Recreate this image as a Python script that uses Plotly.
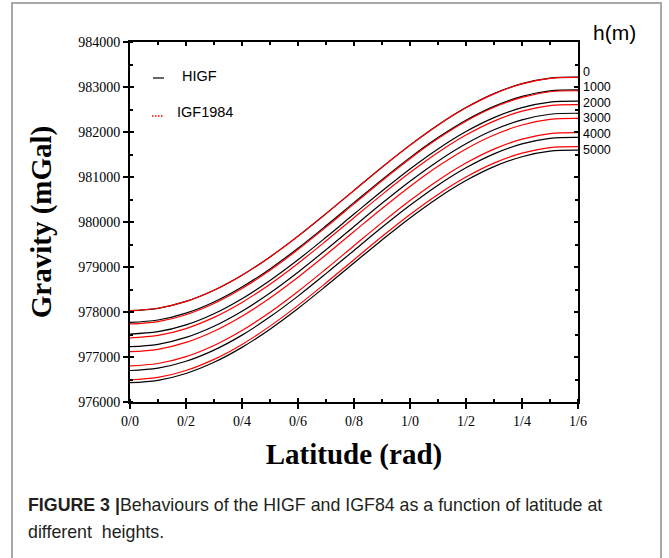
import plotly.graph_objects as go

# latitude samples (rad)
latitude = [0.0, 0.1, 0.2, 0.3, 0.4, 0.5, 0.6, 0.7, 0.8, 0.9, 1.0, 1.1, 1.2, 1.3, 1.4, 1.5, 1.6]

# HIGF gravity (mGal) per height (m)
higf_0 = [978030, 978082, 978235, 978484, 978818, 979224, 979686, 980186, 980703, 981218, 981708, 982156, 982543, 982853, 983075, 983199, 983221]
higf_1000 = [977770, 977822, 977974, 978222, 978554, 978958, 979418, 979916, 980430, 980942, 981431, 981876, 982261, 982570, 982791, 982914, 982936]
higf_2000 = [977510, 977562, 977714, 977962, 978296, 978701, 979161, 979660, 980176, 980688, 981178, 981624, 982010, 982319, 982540, 982664, 982686]
higf_3000 = [977230, 977282, 977435, 977683, 978017, 978423, 978885, 979384, 979901, 980415, 980905, 981352, 981739, 982049, 982270, 982394, 982416]
higf_4000 = [976700, 976752, 976905, 977153, 977486, 977892, 978353, 978852, 979368, 979882, 980371, 980818, 981204, 981514, 981735, 981859, 981881]
higf_5000 = [976430, 976482, 976634, 976882, 977214, 977618, 978078, 978576, 979090, 979602, 980091, 980536, 980921, 981230, 981451, 981574, 981596]

# IGF1984 gravity (mGal) per height (m)
igf_0 = [978032, 978084, 978237, 978485, 978818, 979224, 979685, 980184, 980701, 981214, 981704, 982151, 982537, 982847, 983068, 983192, 983214]
igf_1000 = [977734, 977786, 977939, 978187, 978520, 978926, 979387, 979886, 980403, 980916, 981406, 981853, 982239, 982549, 982770, 982894, 982916]
igf_2000 = [977427, 977479, 977632, 977880, 978213, 978619, 979080, 979579, 980096, 980609, 981099, 981546, 981932, 982242, 982463, 982587, 982609]
igf_3000 = [977119, 977171, 977324, 977572, 977905, 978311, 978772, 979271, 979788, 980301, 980791, 981238, 981624, 981934, 982155, 982279, 982301]
igf_4000 = [976804, 976856, 977009, 977257, 977590, 977996, 978457, 978956, 979473, 979986, 980476, 980923, 981309, 981619, 981840, 981964, 981986]
igf_5000 = [976494, 976546, 976699, 976947, 977280, 977686, 978147, 978646, 979163, 979676, 980166, 980613, 980999, 981309, 981530, 981654, 981676]

heights = [0, 1000, 2000, 3000, 4000, 5000]
higf = [higf_0, higf_1000, higf_2000, higf_3000, higf_4000, higf_5000]
igf84 = [igf_0, igf_1000, igf_2000, igf_3000, igf_4000, igf_5000]

height_labels = ['0', '1000', '2000', '3000', '4000', '5000']
x_tickvals = [0.0, 0.2, 0.4, 0.6, 0.8, 1.0, 1.2, 1.4, 1.6]
x_ticktext = ['0/0', '0/2', '0/4', '0/6', '0/8', '1/0', '1/2', '1/4', '1/6']
y_tickvals = [976000, 977000, 978000, 979000, 980000, 981000, 982000, 983000, 984000]
x_range = [0, 1.6]
y_range = [976000, 984000]

W, H = 669, 558
L, R, T, B = 130, 91, 42, 156
PW, PH = W - L - R, H - T - B


def px(x):
    return (x - L) / PW


def py(y):
    return (H - B - y) / PH


serif = 'Liberation Serif, Times New Roman, serif'
sans = 'Liberation Sans, Arial, sans-serif'

fig = go.Figure()

for h, vals in zip(heights, higf):
    fig.add_trace(go.Scatter(x=latitude, y=vals, mode='lines', line_shape='spline',
                             line=dict(color='black', width=1.2), showlegend=False,
                             name=f'HIGF {h} m'))
for h, vals in zip(heights, igf84):
    fig.add_trace(go.Scatter(x=latitude, y=vals, mode='lines', line_shape='spline',
                             line=dict(color='#ff0000', width=1.2), showlegend=False,
                             name=f'IGF1984 {h} m'))

# empty traces so the overlay axes (inner / mirrored ticks) get drawn
fig.add_trace(go.Scatter(x=[None], y=[None], xaxis='x2', yaxis='y2', showlegend=False, hoverinfo='skip'))
fig.add_trace(go.Scatter(x=[None], y=[None], xaxis='x3', yaxis='y3', showlegend=False, hoverinfo='skip'))

tick_font = dict(family=serif, size=14, color='black')
base = dict(showgrid=False, zeroline=False, linecolor='black', linewidth=2,
            tickcolor='black', tickwidth=1.5, automargin=False)

fig.update_layout(
    xaxis=dict(
        range=x_range, tickvals=x_tickvals, ticktext=x_ticktext, tickfont=tick_font,
        showline=True, mirror=True, ticks='outside', ticklen=5,
        minor=dict(ticks='inside', ticklen=3, tickwidth=1.5, tickcolor='black', dtick=0.1, tick0=0),
        title=dict(text='<b>Latitude (rad)</b>', font=dict(family=serif, size=29, color='black'), standoff=16),
        **base,
    ),
    yaxis=dict(
        range=y_range, tickvals=y_tickvals, tickformat='d', tickfont=tick_font,
        showline=True, mirror=True, ticks='outside', ticklen=5,
        minor=dict(ticks='inside', ticklen=3, tickwidth=1.5, tickcolor='black', dtick=500, tick0=976000),
        title=dict(text='<b>Gravity (mGal)</b>', font=dict(family=serif, size=29, color='black'), standoff=18),
        **base,
    ),
    # top / right inner ticks
    xaxis2=dict(range=x_range, overlaying='x', side='top', anchor='y2', tickvals=x_tickvals,
                showticklabels=False, showline=False, ticks='inside', ticklen=4,
                minor=dict(ticks='inside', ticklen=3, tickwidth=1.5, tickcolor='black', dtick=0.1, tick0=0),
                **base),
    yaxis2=dict(range=y_range, overlaying='y', side='right', anchor='x2', tickvals=y_tickvals,
                showticklabels=False, showline=False, ticks='inside', ticklen=4,
                minor=dict(ticks='inside', ticklen=3, tickwidth=1.5, tickcolor='black', dtick=500, tick0=976000),
                **base),
    # inner half of the crossing major ticks on bottom / left
    xaxis3=dict(range=x_range, overlaying='x', side='bottom', anchor='y3', tickvals=x_tickvals,
                showticklabels=False, showline=False, ticks='inside', ticklen=4, **base),
    yaxis3=dict(range=y_range, overlaying='y', side='left', anchor='x3', tickvals=y_tickvals,
                showticklabels=False, showline=False, ticks='inside', ticklen=4, **base),
)

annotations = []
# legend
annotations.append(dict(x=px(180), y=py(76), xref='paper', yref='paper', text='HIGF',
                        showarrow=False, xanchor='left', yanchor='middle',
                        font=dict(family=sans, size=14.5, color='black')))
annotations.append(dict(x=px(175), y=py(112), xref='paper', yref='paper', text='IGF1984',
                        showarrow=False, xanchor='left', yanchor='middle',
                        font=dict(family=sans, size=14.5, color='black')))
# height labels
label_y = [72, 87, 103, 118, 134, 150]
for lab, yy in zip(height_labels, label_y):
    annotations.append(dict(x=px(581), y=py(yy), xref='paper', yref='paper', text=lab,
                            showarrow=False, xanchor='left', yanchor='middle',
                            font=dict(family=sans, size=12.5, color='black')))
annotations.append(dict(x=px(614), y=py(32), xref='paper', yref='paper', text='h(m)',
                        showarrow=False, xanchor='center', yanchor='middle',
                        font=dict(family=sans, size=21, color='black')))
# caption
annotations.append(dict(x=px(26), y=py(505), xref='paper', yref='paper',
                        text='<b>FIGURE 3 |</b>Behaviours of the HIGF and IGF84 as a function of latitude at',
                        showarrow=False, xanchor='left', yanchor='middle', align='left',
                        font=dict(family=sans, size=17.8, color='#231f20')))
annotations.append(dict(x=px(26), y=py(532), xref='paper', yref='paper',
                        text='different  heights.',
                        showarrow=False, xanchor='left', yanchor='middle', align='left',
                        font=dict(family=sans, size=17.8, color='#231f20')))

shapes = [
    # figure frame
    dict(type='rect', xref='paper', yref='paper', x0=px(12), x1=px(661), y0=py(575), y1=py(3),
         line=dict(color='#a8a8a8', width=2), fillcolor='rgba(0,0,0,0)', layer='below'),
    # legend samples
    dict(type='line', xref='paper', yref='paper', x0=px(153), x1=px(164), y0=py(78), y1=py(78),
         line=dict(color='black', width=1.2)),
    dict(type='line', xref='paper', yref='paper', x0=px(152), x1=px(164), y0=py(116), y1=py(116),
         line=dict(color='#ff0000', width=1.5, dash='1.5px,1.5px')),
]

fig.update_layout(
    width=W, height=H,
    margin=dict(l=L, r=R, t=T, b=B),
    paper_bgcolor='white', plot_bgcolor='white',
    annotations=annotations, shapes=shapes,
    showlegend=False,
)

fig.write_html('out.html', config={'displayModeBar': False},
               post_script="document.body.style.margin='0';")
